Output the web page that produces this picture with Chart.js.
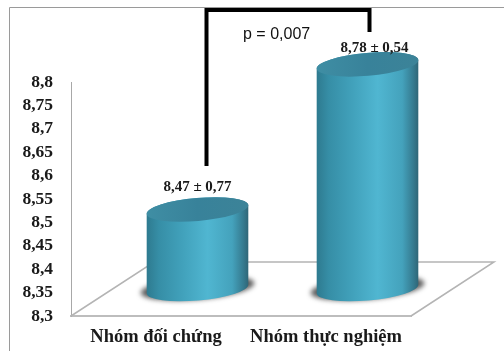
<!DOCTYPE html>
<html lang="vi">
<head>
    <meta charset="UTF-8">
    <title>Nhóm đối chứng - Nhóm thực nghiệm</title>
    <script src="https://cdn.jsdelivr.net/npm/chart.js"></script>
    <style>
        html, body { margin: 0; padding: 0; background: #fff; overflow: hidden; }
        #wrap { width: 504px; height: 351px; position: relative; }
    </style>
</head>
<body>
    <div id="wrap"><canvas id="cylinderChart"></canvas></div>

    <script>
        const categories = ['Nhóm đối chứng', 'Nhóm thực nghiệm'];
        const values = [8.47, 8.78];
        const valueLabels = ['8,47 ± 0,77', '8,78 ± 0,54'];
        const tickLabels = ['8,3', '8,35', '8,4', '8,45', '8,5', '8,55', '8,6', '8,65', '8,7', '8,75', '8,8'];
        const pLabel = 'p = 0,007';

        // the floor of the 3D box, bars stand in the middle of it
        const depthX = 83;
        const depthY = 54;
        const capRx = 51;
        const capRy = 11.5;
        const tilt = -5 * Math.PI / 180;

        function bodyGradient(ctx, left, right) {
            let g = ctx.createLinearGradient(left, 0, right, 0);
            g.addColorStop(0, '#2e7a8f');
            g.addColorStop(0.12, '#368ea6');
            g.addColorStop(0.35, '#41a1bb');
            g.addColorStop(0.6, '#50b6d1');
            g.addColorStop(0.84, '#44a2bc');
            g.addColorStop(0.95, '#357a8f');
            g.addColorStop(1, '#2f6576');
            return g;
        }

        const cylinders = {
            id: 'cylinders',
            beforeDatasetsDraw(chart) {
                let ctx = chart.ctx;
                let a = chart.chartArea;
                ctx.save();

                // outer frame, only top and left are inside the picture
                ctx.strokeStyle = '#9a9a9a';
                ctx.lineWidth = 1;
                ctx.beginPath();
                ctx.moveTo(504, 7.5);
                ctx.lineTo(9.5, 7.5);
                ctx.lineTo(9.5, 351);
                ctx.stroke();

                // floor
                ctx.strokeStyle = '#b4b4b4';
                ctx.lineWidth = 1.5;
                ctx.beginPath();
                ctx.moveTo(a.left, a.bottom);
                ctx.lineTo(a.left + depthX, a.bottom - depthY);
                ctx.lineTo(a.right + depthX, a.bottom - depthY);
                ctx.lineTo(a.right, a.bottom);
                ctx.stroke();

                let meta = chart.getDatasetMeta(0);
                let yScale = chart.scales.y;
                meta.data.forEach(function(bar, i) {
                    let cx = bar.x + depthX / 2;
                    let top = bar.y - depthY / 2;
                    let bottom = yScale.getPixelForValue(yScale.min) - depthY / 2;
                    let left = cx - capRx;
                    let right = cx + capRx;

                    // soft shadow on the floor
                    ctx.save();
                    ctx.filter = 'blur(2.5px)';
                    ctx.fillStyle = 'rgba(50,50,50,0.8)';
                    ctx.beginPath();
                    ctx.ellipse(cx, bottom - 1, capRx + 6, capRy, tilt, 0, Math.PI * 2);
                    ctx.fill();
                    ctx.restore();

                    // body
                    ctx.fillStyle = bodyGradient(ctx, left, right);
                    ctx.beginPath();
                    ctx.ellipse(cx, bottom, capRx, capRy, tilt, 0, Math.PI);
                    ctx.ellipse(cx, top, capRx, capRy, tilt, Math.PI, Math.PI * 2);
                    ctx.closePath();
                    ctx.fill();

                    // top cap
                    let cap = ctx.createLinearGradient(left, 0, right, 0);
                    cap.addColorStop(0, '#3f8ea4');
                    cap.addColorStop(0.5, '#38829a');
                    cap.addColorStop(1, '#3c8398');
                    ctx.fillStyle = cap;
                    ctx.beginPath();
                    ctx.ellipse(cx, top, capRx, capRy, tilt, 0, Math.PI * 2);
                    ctx.fill();
                });
                ctx.restore();
            },
            afterDatasetsDraw(chart) {
                let ctx = chart.ctx;
                let meta = chart.getDatasetMeta(0);
                let labelShift = [[0, -22], [7, -16]];
                ctx.save();
                ctx.fillStyle = '#1a1a1a';
                ctx.font = 'bold 15px "Liberation Serif"';
                ctx.textAlign = 'center';
                ctx.textBaseline = 'middle';
                meta.data.forEach(function(bar, i) {
                    ctx.fillText(valueLabels[i],
                        bar.x + depthX / 2 + labelShift[i][0],
                        bar.y - depthY / 2 + labelShift[i][1]);
                });

                // bracket with the p value
                let x1 = meta.data[0].x + depthX / 2 + 9;
                let x2 = meta.data[1].x + depthX / 2 + 2;
                ctx.strokeStyle = '#000';
                ctx.lineWidth = 4;
                ctx.lineJoin = 'miter';
                ctx.beginPath();
                ctx.moveTo(x1, 166);
                ctx.lineTo(x1, 10);
                ctx.lineTo(x2, 10);
                ctx.lineTo(x2, 32);
                ctx.stroke();

                ctx.fillStyle = '#111';
                ctx.font = '16px "Liberation Sans"';
                ctx.textAlign = 'left';
                ctx.fillText(pLabel, 243, 35);
                ctx.restore();
            }
        };

        Chart.defaults.animation = false;

        new Chart(document.getElementById('cylinderChart').getContext('2d'), {
            type: 'bar',
            data: {
                labels: categories,
                datasets: [{
                    data: values,
                    backgroundColor: 'transparent',
                    categoryPercentage: 0.6,
                    barPercentage: 1
                }]
            },
            options: {
                responsive: true,
                maintainAspectRatio: false,
                layout: { padding: { top: 82, right: 93, left: 0, bottom: 0 } },
                plugins: { legend: { display: false }, tooltip: { enabled: false } },
                scales: {
                    x: {
                        grid: { display: false },
                        border: { display: true, color: '#bdbdbd', width: 2 },
                        ticks: {
                            padding: 2,
                            color: '#1a1a1a',
                            maxRotation: 0,
                            font: { family: '"Liberation Serif"', size: 18.5, weight: 'bold' }
                        },
                        afterFit(scale) { scale.height = 35; }
                    },
                    y: {
                        min: 8.3,
                        max: 8.8,
                        grid: { display: false },
                        border: { display: true, color: '#a8a8a8', width: 1 },
                        ticks: {
                            stepSize: 0.05,
                            autoSkip: false,
                            padding: 10,
                            color: '#1a1a1a',
                            font: { family: '"Liberation Serif"', size: 17.5, weight: 'bold' },
                            callback: (v, i) => tickLabels[i]
                        },
                        afterFit(scale) { scale.width = 71; }
                    }
                }
            },
            plugins: [cylinders]
        });
    </script>
</body>
</html>
